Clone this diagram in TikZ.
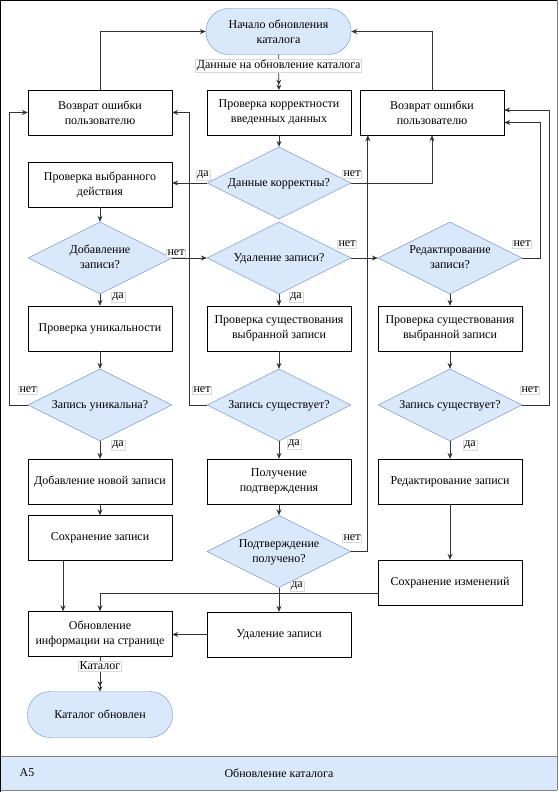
\documentclass[tikz,border=0pt]{standalone}
\usepackage{fontspec}
\setmainfont{Liberation Serif}
\usetikzlibrary{shapes.geometric,arrows.meta}
\definecolor{bfill}{HTML}{DAE8FC}
\definecolor{bline}{HTML}{6C8EBF}
\newcommand{\dtxt}[1]{\makebox[0pt]{\smash{\raisebox{-3pt}{\begin{tabular}{@{}c@{}}#1\end{tabular}}}}}
\tikzset{
  txt/.style={font=\fontsize{12pt}{15pt}\selectfont},
  proc/.style={txt, rectangle, draw=black, fill=white, minimum width=144pt, minimum height=45pt, align=center, inner sep=2pt},
  term/.style={txt, rectangle, rounded corners=22.5pt, draw=bline, fill=bfill, minimum width=145pt, minimum height=46pt, align=center},
  dec/.style={txt, diamond, draw=bline, fill=bfill, minimum width=144pt, minimum height=72pt, inner sep=0pt},
  lbl/.style={font=\fontsize{12pt}{14pt}\selectfont, fill=white, draw=gray!30, inner sep=1pt},
  conn/.style={draw=black!80, line width=0.8pt, -{Stealth[length=6pt,width=5pt]}},
  dconn/.style={draw=black!80, line width=0.8pt, -{Stealth[length=5pt,width=5pt] Stealth[length=5pt,width=5pt]}}
}
\begin{document}
\begin{tikzpicture}[x=1pt,y=-1pt]
\useasboundingbox (0,0) rectangle (559,792);
% frame and band
\fill[bfill] (0,756) rectangle (557,790);
\draw[gray] (0,756) -- (557,756);
\draw[gray] (0,790) -- (557,790);
\draw[gray] (557,0) -- (557,790);
\draw[black, line width=1.2pt] (0.6,792) -- (0.6,0.6) -- (557,0.6);
\node[txt] (bandA) at (27,773) {A5};
\node[txt] (bandT) at (279,773) {Обновление каталога};
% nodes
\node[term] (start) at (278.5,31.5) {Начало обновления\\каталога};
\node[proc] (chk) at (279,112.5) {Проверка корректности\\введенных данных};
\node[proc] (errL) at (100,112.5) {Возврат ошибки\\пользователю};
\node[proc] (errR) at (432,112.5) {Возврат ошибки\\пользователю};
\node[dec] (dOK) at (279,183) {\dtxt{Данные корректны?}};
\node[proc] (act) at (100,184.5) {Проверка выбранного\\действия};
\node[dec] (dAdd) at (100,258) {\dtxt{Добавление\\записи?}};
\node[dec] (dDel) at (279,258) {\dtxt{Удаление записи?}};
\node[dec] (dEdit) at (450,258) {\dtxt{Редактирование\\записи?}};
\node[proc] (uniq) at (100,328.5) {Проверка уникальности};
\node[proc] (exM) at (279,328.5) {Проверка существования\\выбранной записи};
\node[proc] (exR) at (450,328.5) {Проверка существования\\выбранной записи};
\node[dec] (dUniq) at (100,405) {\dtxt{Запись уникальна?}};
\node[dec] (dExM) at (279,405) {\dtxt{Запись существует?}};
\node[dec] (dExR) at (450,405) {\dtxt{Запись существует?}};
\node[proc] (add) at (100,481.5) {Добавление новой записи};
\node[proc] (conf) at (279,481.5) {Получение\\подтверждения};
\node[proc] (edit) at (450,481.5) {Редактирование записи};
\node[proc] (save) at (100,538) {Сохранение записи};
\node[dec] (dConf) at (279,551.5) {\dtxt{Подтверждение\\получено?}};
\node[proc] (saveCh) at (450,582.5) {Сохранение изменений};
\node[proc] (upd) at (100,634) {Обновление\\информации на странице};
\node[proc] (del) at (279,634.5) {Удаление записи};
\node[term] (end) at (100,714.5) {Каталог обновлен};
% connectors
\draw[dconn] (start) -- node[lbl, pos=0.31] (lData) {Данные на обновление каталога} (chk);
\draw[conn] (chk) -- (dOK);
\draw[conn] (dOK.west) -- (dOK.west -| act.east);
\draw[conn] (dOK.east) -| (errR.south);
\draw[conn] (errR.north) |- (start.east);
\draw[conn] (errL.north) |- (start.west);
\draw[conn] (act) -- (dAdd);
\draw[conn] (dAdd.east) -- (dDel.west);
\draw[conn] (dAdd) -- (uniq);
\draw[conn] (uniq) -- (dUniq);
\draw[conn] (dUniq.west) -- ++(-18,0) |- (errL.west);
\draw[conn] (dUniq) -- (add);
\draw[conn] (add) -- (save);
\draw[conn] ([xshift=-37pt]save.south) -- ([xshift=-37pt]save.south |- upd.north);
\draw[conn] (dDel) -- (exM);
\draw[conn] (dDel.east) -- (dEdit.west);
\draw[conn] (exM) -- (dExM);
\draw[conn] (dExM.west) -- ++(-17,0) |- (errL.east);
\draw[conn] (dExM) -- (conf);
\draw[conn] (conf) -- (dConf);
\draw[conn] (dConf.east) -| ([xshift=8pt]errR.south west);
\draw[conn] (dConf) -- (del);
\draw[conn] (del.west) -- (del.west -| upd.east);
\draw[conn] (dEdit.east) -- ++(18,0) |- ([yshift=-10pt]errR.east);
\draw[conn] (dEdit) -- (exR);
\draw[conn] (exR) -- (dExR);
\draw[conn] (dExR.east) -- ++(27,0) |- ([yshift=2.5pt]errR.east);
\draw[conn] (dExR) -- (edit);
\draw[conn] (edit) -- (saveCh);
\draw[conn] ([yshift=-10.5pt]saveCh.west) -| (upd.north);
\draw[dconn] (upd) -- node[lbl, pos=0.27] (lCat) {Каталог} (end);
% branch labels
\node[lbl] (l1) at (203,175) {да};
\node[lbl] (l2) at (352,174) {нет};
\node[lbl] (l3) at (176,253) {нет};
\node[lbl] (l4) at (118,297) {да};
\node[lbl] (l5) at (347,244) {нет};
\node[lbl] (l6) at (296,297) {да};
\node[lbl] (l7) at (522,244) {нет};
\node[lbl] (l8) at (28,390) {нет};
\node[lbl] (l9) at (202,390) {нет};
\node[lbl] (l10) at (530,390) {нет};
\node[lbl] (l11) at (118,445) {да};
\node[lbl] (l12) at (294,444) {да};
\node[lbl] (l13) at (470,445) {да};
\node[lbl] (l14) at (352,538) {нет};
\node[lbl] (l15) at (297,586) {да};
\end{tikzpicture}
\end{document}
